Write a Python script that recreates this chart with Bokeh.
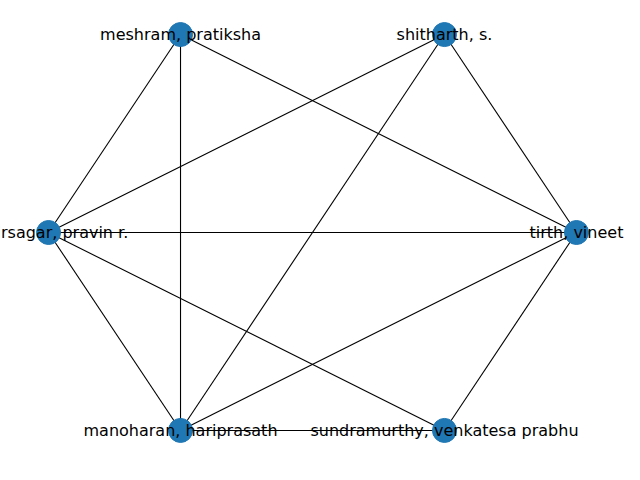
import math
from bokeh.plotting import figure
from bokeh.models import ColumnDataSource
from bokeh.core.properties import value
from bokeh.embed import file_html
from bokeh.resources import INLINE

# nodes in circular layout order (angle 0, 60, 120, ...)
nodes = ["tirth, vineet", "shitharth, s.", "meshram, pratiksha",
         "kshirsagar, pravin r.", "manoharan, hariprasath", "sundramurthy, venkatesa prabhu"]
edges = [
    ("meshram, pratiksha", "kshirsagar, pravin r."),
    ("meshram, pratiksha", "manoharan, hariprasath"),
    ("meshram, pratiksha", "tirth, vineet"),
    ("shitharth, s.", "kshirsagar, pravin r."),
    ("shitharth, s.", "manoharan, hariprasath"),
    ("shitharth, s.", "tirth, vineet"),
    ("kshirsagar, pravin r.", "tirth, vineet"),
    ("kshirsagar, pravin r.", "manoharan, hariprasath"),
    ("kshirsagar, pravin r.", "sundramurthy, venkatesa prabhu"),
    ("tirth, vineet", "manoharan, hariprasath"),
    ("tirth, vineet", "sundramurthy, venkatesa prabhu"),
    ("manoharan, hariprasath", "sundramurthy, venkatesa prabhu"),
]

pos = {n: (math.cos(2 * math.pi * i / len(nodes)), math.sin(2 * math.pi * i / len(nodes)))
       for i, n in enumerate(nodes)}

p = figure(width=624, height=464, x_range=(-1.182, 1.182), y_range=(-1.015, 1.015),
           output_backend="svg", toolbar_location=None, min_border=0)
p.axis.visible = False
p.grid.visible = False
p.outline_line_color = None

p.multi_line([[pos[a][0], pos[b][0]] for a, b in edges],
             [[pos[a][1], pos[b][1]] for a, b in edges],
             line_color="black", line_width=1.1)

src = ColumnDataSource(dict(x=[pos[n][0] for n in nodes], y=[pos[n][1] for n in nodes], name=nodes))
p.scatter("x", "y", source=src, size=24, fill_color="#1f77b4", line_color="#1f77b4")
p.text("x", "y", text="name", source=src, text_align="center", text_baseline="middle",
       text_font=value("DejaVu Sans"), text_font_size="12pt", text_color="black")

open("out.html", "w").write(file_html(p, INLINE))
